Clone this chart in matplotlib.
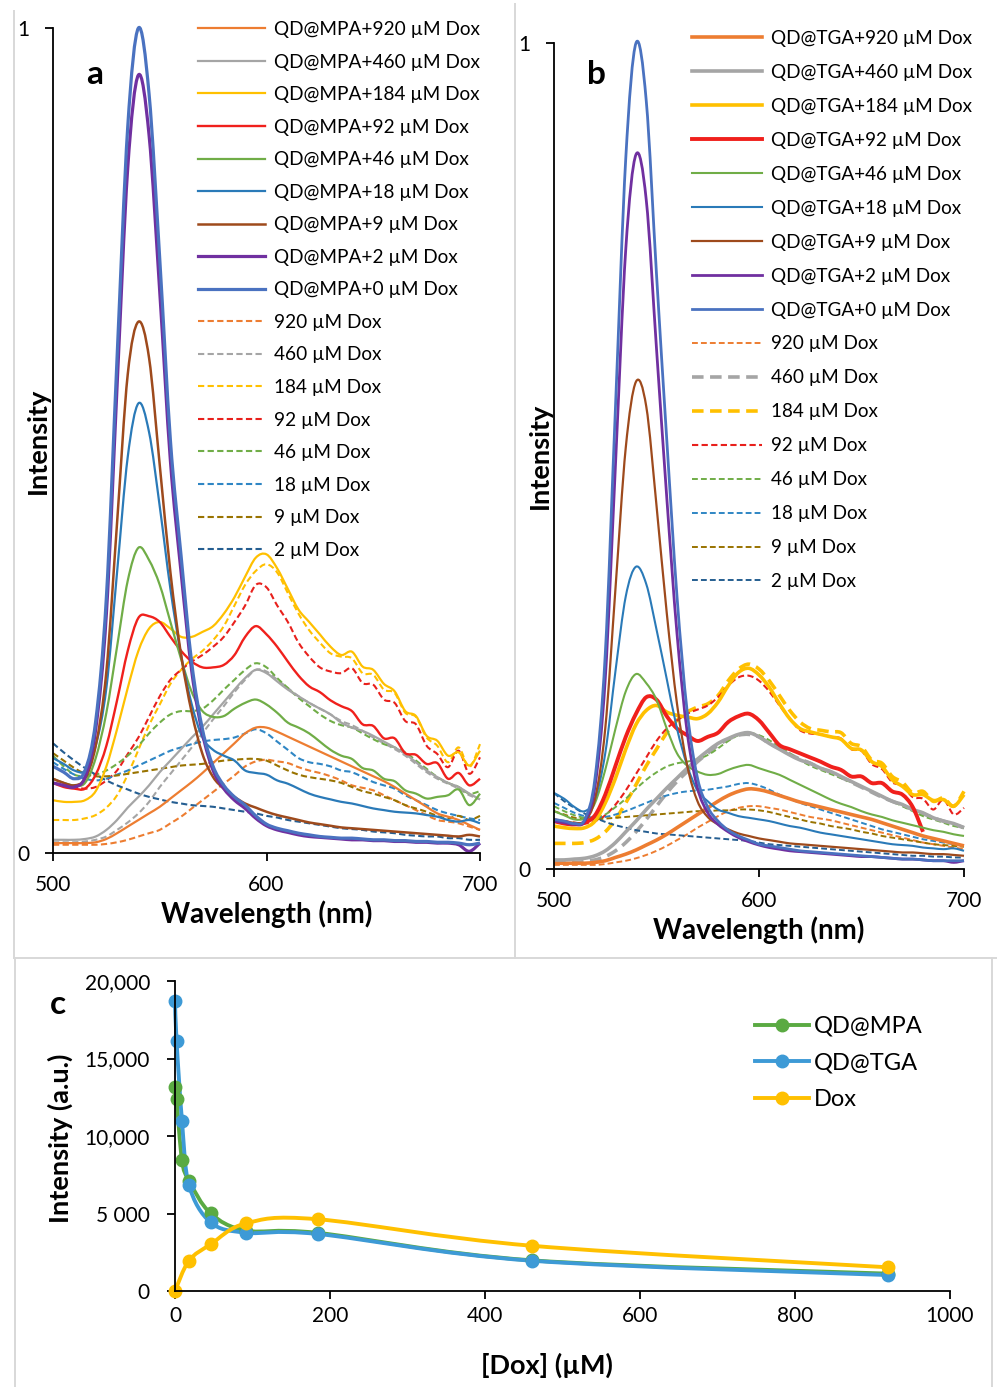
import numpy as np
import matplotlib
matplotlib.use("Agg")
import matplotlib.pyplot as plt
from matplotlib.path import Path
from matplotlib.patches import PathPatch
from matplotlib.lines import Line2D

plt.rcParams['font.family'] = ['Lato', 'DejaVu Sans']

W, H = 998, 1387
nan = np.nan

# ---------------------------------------------------------------- spectra data
wavelength = np.arange(500, 705, 5)

doses = ["920", "460", "184", "92", "46", "18", "9", "2", "0"]

# panel a : QD@MPA + Dox (solid) and Dox alone (dashed), normalised intensity
a_qd_920 = [.012,.012,.012,.012,.013,.017,.024,.032,.040,.048,.056,.066,.076,.086,.097,.109,.121,.133,.145,.152,.152,.147,.141,.135,.129,.123,.117,.111,.105,.099,.093,.087,.080,.072,.064,.056,.048,.044,.040,.034,.028]
a_qd_460 = [.016,.016,.016,.017,.020,.028,.040,.055,.068,.082,.098,.112,.126,.140,.153,.168,.183,.198,.212,.222,.218,.208,.198,.190,.182,.175,.168,.158,.152,.148,.142,.135,.128,.120,.110,.100,.092,.085,.080,.072,.065]
a_qd_184 = [.064,.062,.062,.064,.075,.105,.150,.200,.245,.272,.280,.272,.262,.262,.268,.275,.290,.310,.335,.358,.362,.345,.320,.295,.280,.265,.250,.240,.244,.226,.222,.205,.196,.172,.166,.142,.136,.118,.122,.106,.124]
a_qd_92 = [.085,.080,.078,.078,.095,.130,.185,.245,.285,.287,.280,.262,.245,.232,.225,.225,.228,.240,.262,.275,.265,.250,.232,.215,.202,.195,.185,.178,.172,.156,.154,.139,.139,.121,.119,.108,.109,.090,.097,.082,.090]
a_qd_46 = [.090,.085,.082,.085,.115,.170,.250,.330,.370,.355,.325,.280,.235,.195,.172,.165,.166,.175,.182,.186,.180,.170,.158,.152,.145,.135,.125,.118,.114,.103,.100,.090,.087,.076,.072,.066,.068,.070,.077,.058,.072]
a_qd_18 = [.115,.108,.100,.100,.130,.200,.340,.480,.545,.510,.420,.320,.240,.180,.140,.125,.118,.112,.100,.097,.095,.088,.084,.078,.072,.068,.065,.062,.060,.057,.054,.052,.050,.049,.048,.046,.044,.040,.038,.040,.036]
a_qd_9 = [.090,.085,.082,.090,.130,.220,.400,.580,.644,.600,.470,.340,.240,.170,.120,.092,.078,.068,.060,.055,.050,.046,.043,.040,.037,.035,.033,.031,.030,.029,.028,.027,.026,.025,.024,.023,.022,.021,.020,.022,.020]
a_qd_2 = [.085,.082,.080,.092,.150,.290,.565,.830,.943,.870,.680,.475,.340,.220,.145,.100,.078,.064,.054,.042,.033,.028,.025,.022,.020,.019,.018,.017,.016,.016,.015,.015,.014,.014,.013,.013,.012,.012,.010,.002,.012]
a_qd_0 = [.105,.098,.090,.100,.160,.310,.600,.880,1.000,.920,.720,.500,.360,.230,.150,.105,.082,.068,.058,.045,.035,.030,.027,.024,.022,.020,.019,.018,.018,.017,.016,.016,.015,.015,.014,.014,.013,.013,.012,.010,.012]

a_dox_920 = [.010,.010,.010,.010,.010,.011,.013,.016,.020,.024,.028,.036,.044,.054,.064,.074,.084,.094,.105,.111,.113,.111,.109,.104,.100,.097,.093,.088,.082,.079,.076,.070,.064,.058,.052,.046,.040,.038,.036,.032,.028]
a_dox_460 = [.013,.013,.013,.014,.016,.020,.028,.037,.048,.062,.080,.096,.112,.128,.145,.162,.178,.195,.210,.222,.220,.210,.200,.190,.182,.175,.168,.160,.155,.148,.140,.133,.126,.118,.108,.098,.090,.084,.078,.070,.065]
a_dox_184 = [.040,.040,.040,.042,.046,.055,.070,.095,.125,.155,.180,.205,.222,.235,.245,.258,.275,.300,.325,.342,.350,.340,.315,.290,.270,.255,.242,.238,.236,.218,.216,.198,.194,.170,.165,.140,.130,.110,.128,.104,.132]
a_dox_92 = [.085,.083,.080,.078,.080,.088,.100,.120,.140,.165,.190,.210,.222,.232,.240,.250,.262,.280,.300,.325,.322,.300,.280,.255,.238,.225,.220,.218,.224,.206,.204,.186,.182,.160,.156,.130,.120,.104,.124,.096,.116]
a_dox_46 = [.118,.105,.095,.093,.095,.100,.108,.118,.130,.145,.158,.168,.172,.172,.175,.185,.198,.210,.222,.230,.225,.212,.200,.188,.178,.168,.160,.155,.152,.145,.138,.132,.128,.122,.112,.102,.092,.085,.080,.072,.075]
a_dox_18 = [.110,.102,.095,.090,.088,.090,.095,.100,.106,.112,.118,.124,.128,.132,.135,.137,.138,.140,.145,.150,.145,.135,.125,.115,.110,.108,.105,.100,.098,.092,.086,.082,.078,.070,.064,.058,.052,.048,.045,.042,.040]
a_dox_9 = [.121,.112,.103,.096,.093,.093,.094,.096,.098,.100,.102,.104,.106,.107,.108,.110,.112,.113,.114,.114,.112,.106,.100,.095,.092,.090,.088,.085,.080,.075,.072,.068,.064,.058,.054,.050,.045,.042,.045,.040,.045]
a_dox_2 = [.133,.122,.112,.103,.095,.088,.082,.077,.072,.068,.065,.062,.060,.058,.057,.056,.054,.052,.050,.048,.045,.043,.040,.038,.036,.034,.032,.030,.029,.028,.026,.025,.024,.022,.021,.020,.020,.018,.018,.016,.016]

# panel b : QD@TGA + Dox (solid) and Dox alone (dashed)
b_qd_920 = [.007,.007,.007,.007,.008,.010,.014,.018,.023,.029,.035,.042,.050,.058,.066,.074,.082,.089,.094,.097,.096,.093,.089,.085,.081,.078,.075,.072,.069,.066,.063,.060,.056,.052,.048,.044,.040,.037,.034,.031,.028]
b_qd_460 = [.011,.011,.012,.013,.016,.022,.032,.045,.058,.072,.085,.098,.110,.122,.133,.143,.152,.158,.163,.165,.160,.152,.145,.138,.132,.128,.122,.118,.112,.106,.100,.094,.088,.082,.078,.072,.068,.062,.058,.055,.050]
b_qd_184 = [.052,.050,.049,.050,.058,.080,.110,.145,.175,.192,.198,.190,.186,.184,.182,.188,.202,.222,.238,.243,.235,.220,.200,.182,.170,.166,.163,.160,.157,.146,.144,.130,.124,.108,.100,.090,.090,.083,.084,.076,.090]
b_qd_92 = [.058,.055,.054,.056,.065,.090,.125,.160,.188,.208,.205,.185,.170,.162,.155,.160,.165,.178,.185,.188,.180,.165,.150,.145,.140,.135,.130,.124,.120,.112,.112,.104,.104,.094,.090,.075,.045,nan,nan,nan,nan]
b_qd_46 = [.070,.065,.060,.062,.080,.120,.170,.215,.236,.225,.205,.170,.140,.125,.118,.114,.115,.120,.124,.126,.122,.118,.114,.108,.102,.096,.090,.084,.079,.075,.070,.066,.063,.059,.056,.053,.050,.047,.045,.042,.040]
b_qd_18 = [.092,.085,.075,.070,.085,.140,.240,.330,.366,.345,.290,.230,.170,.125,.095,.082,.072,.068,.064,.062,.060,.058,.055,.052,.050,.047,.044,.042,.040,.038,.036,.034,.032,.030,.029,.028,.026,.025,.024,.025,.022]
b_qd_9 = [.060,.058,.056,.058,.085,.170,.340,.510,.590,.560,.440,.310,.200,.125,.082,.063,.054,.048,.043,.040,.037,.035,.033,.031,.030,.029,.028,.027,.026,.025,.024,.023,.022,.021,.020,.020,.019,.018,.018,.017,.016]
b_qd_2 = [.058,.056,.054,.058,.100,.230,.490,.750,.865,.810,.630,.450,.285,.165,.098,.068,.054,.045,.038,.033,.029,.026,.024,.022,.021,.020,.019,.018,.017,.016,.015,.015,.014,.013,.012,.012,.011,.010,.010,.008,.010]
b_qd_0 = [.060,.058,.055,.060,.110,.260,.560,.860,1.000,.930,.720,.520,.330,.190,.110,.075,.058,.047,.040,.035,.030,.028,.026,.024,.022,.021,.020,.019,.018,.017,.016,.015,.014,.013,.012,.012,.011,.010,.010,.010,.010]

b_dox_920 = [.005,.005,.005,.005,.005,.006,.008,.010,.013,.017,.022,.028,.035,.042,.050,.057,.064,.070,.074,.076,.076,.074,.072,.069,.066,.063,.061,.059,.056,.053,.050,.047,.044,.041,.038,.035,.032,.030,.028,.026,.024]
b_dox_460 = [.008,.008,.008,.009,.011,.015,.022,.032,.045,.060,.076,.092,.106,.118,.130,.140,.150,.157,.162,.163,.160,.152,.146,.139,.133,.128,.122,.117,.111,.105,.099,.093,.087,.082,.077,.072,.067,.062,.058,.054,.050]
b_dox_184 = [.031,.031,.031,.032,.036,.045,.060,.080,.102,.125,.145,.165,.180,.190,.196,.200,.210,.228,.242,.248,.242,.228,.210,.192,.178,.170,.168,.166,.165,.152,.148,.132,.128,.112,.105,.092,.094,.082,.086,.076,.094]
b_dox_92 = [.060,.058,.056,.055,.058,.065,.078,.095,.115,.135,.155,.170,.180,.188,.193,.198,.208,.222,.232,.234,.228,.215,.198,.182,.168,.164,.163,.160,.158,.145,.143,.127,.121,.105,.101,.087,.085,.072,.084,.066,.074]
b_dox_46 = [.076,.070,.065,.062,.062,.066,.075,.085,.097,.108,.117,.124,.128,.130,.133,.138,.146,.155,.162,.165,.162,.156,.148,.140,.132,.125,.120,.115,.110,.105,.100,.094,.088,.082,.076,.070,.064,.060,.056,.052,.050]
b_dox_18 = [.080,.074,.068,.064,.062,.063,.066,.070,.075,.080,.085,.089,.092,.094,.095,.096,.098,.100,.103,.104,.101,.096,.090,.085,.080,.076,.072,.068,.064,.060,.056,.052,.048,.045,.042,.039,.036,.034,.032,.030,.028]
b_dox_9 = [.070,.066,.062,.060,.060,.061,.062,.063,.064,.065,.066,.067,.068,.069,.070,.070,.071,.071,.072,.072,.071,.069,.066,.063,.060,.057,.055,.052,.050,.048,.045,.043,.040,.038,.036,.034,.032,.030,.029,.028,.027]
b_dox_2 = [.092,.082,.074,.067,.062,.057,.053,.050,.047,.045,.043,.042,.041,.040,.039,.038,.037,.036,.035,.034,.032,.030,.029,.028,.027,.026,.025,.024,.023,.022,.021,.020,.019,.018,.017,.016,.016,.015,.015,.014,.014]

# ---------------------------------------------------------------- titration data (panel c)
dox_conc = [0, 2, 9, 18, 46, 92, 184, 460, 920]
mpa_intensity = [13180, 12370, 8450, 7120, 5010, 3900, 3750, 1980, 1120]
tga_intensity = [18730, 16130, 10990, 6840, 4430, 3760, 3680, 1955, 1030]
free_dox_conc = [0, 18, 46, 92, 184, 460, 920]
free_dox_intensity = [0, 1955, 3010, 4370, 4630, 2920, 1530]
c_yticks = [0, 5000, 10000, 15000, 20000]
c_yticklabels = ["0", "5 000", "10,000", "15,000", "20,000"]
c_xticks = [0, 200, 400, 600, 800, 1000]

# ---------------------------------------------------------------- styling
qd_colors = ['#ED7D31', '#A5A5A5', '#FFC000', '#F0201C', '#70AD47', '#2A7AB8', '#9E4A1C', '#7030A0', '#4A72C0']
dox_colors = ['#ED7D31', '#A5A5A5', '#FFC000', '#E8201C', '#70AD47', '#2F86C4', '#997300', '#255E91']


def fx(px):
    return px / W


def fy(py):
    return 1 - py / H


def axes_rect(x0, x1, y_top, y_bottom):
    return [fx(x0), fy(y_bottom), (x1 - x0) / W, (y_bottom - y_top) / H]


def smooth_path(x, y):
    """Cubic Bezier path (Catmull-Rom tangents) through the given points."""
    pts = np.column_stack([x, y]).astype(float)
    n = len(pts)
    verts = [pts[0]]
    codes = [Path.MOVETO]
    for i in range(n - 1):
        p0 = pts[i - 1] if i > 0 else pts[i]
        p1 = pts[i]
        p2 = pts[i + 1]
        p3 = pts[i + 2] if i + 2 < n else pts[i + 1]
        verts += [p1 + (p2 - p0) / 6.0, p2 - (p3 - p1) / 6.0, p2]
        codes += [Path.CURVE4] * 3
    return Path(verts, codes)


fig = plt.figure(figsize=(W / 100, H / 100), dpi=100)
fig.patch.set_facecolor('white')

# light panel frames
frame_kw = dict(color='#D8D8D8', lw=1.4, transform=fig.transFigure)
fig.add_artist(Line2D([fx(14), fx(14)], [fy(11), fy(958)], **frame_kw))
fig.add_artist(Line2D([fx(515), fx(515)], [fy(4), fy(958)], **frame_kw))
fig.add_artist(Line2D([fx(14), fx(996)], [fy(958), fy(958)], **frame_kw))
fig.add_artist(Line2D([fx(15), fx(15)], [fy(958), fy(1387)], **frame_kw))
fig.add_artist(Line2D([fx(992), fx(992)], [fy(958), fy(1387)], **frame_kw))


def style_spectrum_axes(ax):
    ax.set_xlim(500, 700)
    ax.set_ylim(0, 1)
    for s in ('top', 'right'):
        ax.spines[s].set_visible(False)
    for s in ('left', 'bottom'):
        ax.spines[s].set_linewidth(1.3)
        ax.spines[s].set_color('black')
    ax.set_xticks([500, 600, 700])
    ax.set_yticks([0, 1])
    ax.set_yticklabels(["0", "1"])
    ax.tick_params(axis='both', direction='out', length=6, width=1.3, labelsize=15, colors='black')
    ax.tick_params(axis='y', pad=11)
    ax.tick_params(axis='x', pad=10)
    ax.patch.set_alpha(0)


def add_spectrum(ax, vals, color, lw, dashes=None):
    y = np.asarray(vals, dtype=float)
    ok = ~np.isnan(y)
    style = '-' if dashes is None else (0, dashes)
    ax.add_patch(PathPatch(smooth_path(wavelength[ok], y[ok]), facecolor='none', edgecolor=color,
                           lw=lw, linestyle=style, capstyle='butt', joinstyle='round',
                           transform=ax.transData, clip_on=False))
    return Line2D([], [], color=color, lw=lw, linestyle=style, dash_capstyle='butt')


def draw_spectra(ax, qd_sets, dox_sets, qd_lw, dox_lw, dox_dash, prefix,
                 legend_xy, fsize, hlen, spacing):
    dox_handles = [add_spectrum(ax, v, c, lw, d)
                   for v, c, lw, d in zip(dox_sets, dox_colors, dox_lw, dox_dash)]
    qd_handles = [add_spectrum(ax, v, c, lw)
                  for v, c, lw in zip(qd_sets, qd_colors, qd_lw)]
    labels = [f"{prefix}+{d} \u00b5M Dox" for d in doses] + [f"{d} \u00b5M Dox" for d in doses[:-1]]
    ax.legend(qd_handles + dox_handles, labels, loc='upper left',
              bbox_to_anchor=(fx(legend_xy[0]), fy(legend_xy[1])), bbox_transform=fig.transFigure,
              frameon=False, fontsize=fsize, handlelength=hlen, handletextpad=0.5,
              labelspacing=spacing, borderpad=0, borderaxespad=0)


# ---------------------------------------------------------------- panel a
ax_a = fig.add_axes(axes_rect(53, 480, 28, 853))
style_spectrum_axes(ax_a)
draw_spectra(ax_a,
             [a_qd_920, a_qd_460, a_qd_184, a_qd_92, a_qd_46, a_qd_18, a_qd_9, a_qd_2, a_qd_0],
             [a_dox_920, a_dox_460, a_dox_184, a_dox_92, a_dox_46, a_dox_18, a_dox_9, a_dox_2],
             [1.6, 1.6, 1.6, 1.7, 1.6, 1.6, 1.8, 2.3, 2.3],
             [1.5] * 8, [(3, 1.6)] * 8,
             "QD@MPA", (198, 21), 13.7, 3.5, 0.817)
ax_a.set_xlabel("Wavelength (nm)", fontsize=20, fontweight='bold', labelpad=4)
fig.text(fx(38), fy(441), "Intensity", fontsize=19.5, fontweight='bold', rotation=90,
         ha='center', va='center')
fig.text(fx(95), fy(75), "a", fontsize=24, fontweight='bold', ha='center', va='center')

# ---------------------------------------------------------------- panel b
ax_b = fig.add_axes(axes_rect(554, 964, 43, 869))
style_spectrum_axes(ax_b)
draw_spectra(ax_b,
             [b_qd_920, b_qd_460, b_qd_184, b_qd_92, b_qd_46, b_qd_18, b_qd_9, b_qd_2, b_qd_0],
             [b_dox_920, b_dox_460, b_dox_184, b_dox_92, b_dox_46, b_dox_18, b_dox_9, b_dox_2],
             [2.6, 2.6, 2.6, 2.8, 1.5, 1.5, 1.6, 2.0, 2.0],
             [1.4, 2.6, 2.6, 1.5, 1.4, 1.4, 1.4, 1.4],
             [(3, 1.6), (3.2, 1.8), (3.2, 1.8), (3, 1.6), (3, 1.6), (3, 1.6), (3, 1.6), (3, 1.6)],
             "QD@TGA", (692, 30), 13.6, 3.7, 0.897)
ax_b.set_xlabel("Wavelength (nm)", fontsize=20, fontweight='bold', labelpad=4)
fig.text(fx(540), fy(456), "Intensity", fontsize=19.5, fontweight='bold', rotation=90,
         ha='center', va='center')
fig.text(fx(596), fy(75), "b", fontsize=24, fontweight='bold', ha='center', va='center')

# ---------------------------------------------------------------- panel c
ax_c = fig.add_axes(axes_rect(175, 950, 981, 1291))
ax_c.set_xlim(0, 1000)
ax_c.set_ylim(0, 20000)
for s in ('top', 'right'):
    ax_c.spines[s].set_visible(False)
for s in ('left', 'bottom'):
    ax_c.spines[s].set_linewidth(1.3)
ax_c.set_xticks(c_xticks)
ax_c.set_yticks(c_yticks)
ax_c.set_yticklabels(c_yticklabels)
ax_c.tick_params(axis='both', direction='out', length=6, width=1.3, labelsize=15)
ax_c.tick_params(axis='y', pad=12)
ax_c.tick_params(axis='x', pad=5)

series_c = [
    ("QD@MPA", dox_conc, mpa_intensity, '#5AAA42'),
    ("QD@TGA", dox_conc, tga_intensity, '#3D9AD6'),
    ("Dox", free_dox_conc, free_dox_intensity, '#FFC000'),
]
c_handles = []
for name, xs, ys, col in series_c:
    ax_c.add_patch(PathPatch(smooth_path(xs, ys), facecolor='none', edgecolor=col, lw=2.8,
                             transform=ax_c.transData, clip_on=False))
    ax_c.plot(xs, ys, 'o', color=col, markersize=9, clip_on=False)
    c_handles.append(Line2D([], [], color=col, lw=2.8, marker='o', markersize=9))

ax_c.legend(c_handles, [s[0] for s in series_c], loc='upper left',
            bbox_to_anchor=(fx(755), fy(1016)), bbox_transform=fig.transFigure,
            frameon=False, fontsize=17, handlelength=2.3, handletextpad=0.2,
            labelspacing=0.66, borderpad=0, borderaxespad=0)
fig.text(fx(547), fy(1365), "[Dox] (\u00b5M)", fontsize=19.5, fontweight='bold',
         ha='center', va='center')
fig.text(fx(60), fy(1138), "Intensity (a.u.)", fontsize=19.5, fontweight='bold', rotation=90,
         ha='center', va='center')
fig.text(fx(58), fy(1005), "c", fontsize=24, fontweight='bold', ha='center', va='center')

fig.savefig("out.png", dpi=100, facecolor='white')
